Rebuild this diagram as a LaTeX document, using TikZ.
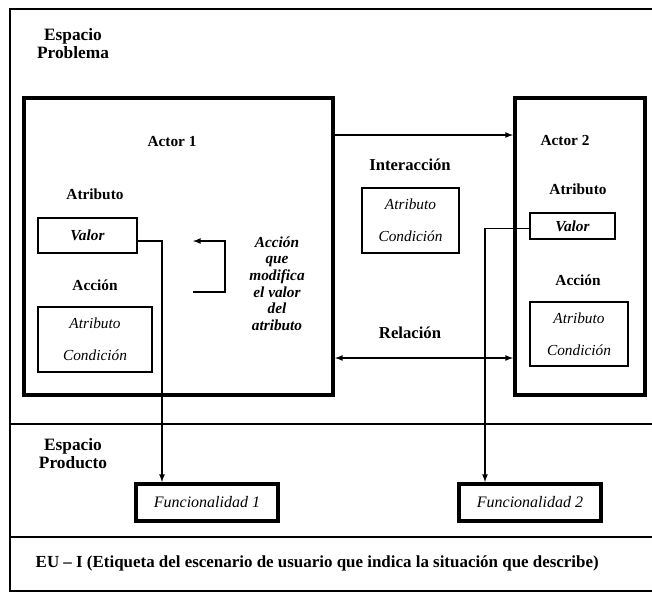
\documentclass[tikz,border=0pt]{standalone}
\usepackage{fontspec}
\setmainfont{Liberation Serif}
\usetikzlibrary{positioning}

\begin{document}
\begin{tikzpicture}[
    x=0.75pt, y=-0.75pt,
    bigbox/.style={draw,line width=3pt,inner sep=0pt},
    smallbox/.style={draw,line width=0.8pt,inner sep=0pt,align=center,
      font=\fontsize{11.5}{24}\selectfont\itshape},
    funcbox/.style={draw,line width=3pt,inner sep=0pt,
      minimum width=106.5pt,minimum height=27.75pt,
      font=\fontsize{12}{14}\selectfont\itshape},
    lbl/.style={font=\fontsize{11.5}{12.75}\selectfont\bfseries,align=center},
    space/.style={font=\fontsize{13}{13.5}\selectfont\bfseries,align=center},
    biglbl/.style={font=\fontsize{12.5}{14}\selectfont\bfseries},
    link/.style={line width=1pt}
    ]

    \useasboundingbox (0,0) rectangle (652,594);

    % frame of the spaces
    \draw[line width=1.5pt] (652,9) -- (10,9) -- (10,591) -- (652,591);
    \draw[line width=2pt] (10,424) -- (652,424);
    \draw[line width=2pt] (10,537) -- (652,537);

    \node[space] (eprob) at (73,44) {Espacio\\Problema};
    \node[space] (eprod) at (73,454) {Espacio\\Producto};

    % actors
    \node[bigbox, minimum width=231.75pt, minimum height=222.75pt] (actor1) at (178.5,246.5) {};
    \node[bigbox, minimum width=97.5pt, minimum height=222.75pt] (actor2) at (580,246.5) {};

    \node[lbl] (a1) at (172,142) {Actor 1};
    \node[lbl] (at1) at (95,194) {Atributo};
    \node[smallbox, minimum width=74.25pt, minimum height=26.25pt] (valor1) at (87.5,235.5) {\bfseries Valor};
    \node[lbl] (ac1) at (95,285) {Acción};
    \node[smallbox, minimum width=85.5pt, minimum height=48.75pt] (accion1) at (95,339.5) {Atributo\\Condición};

    \node[lbl] (a2) at (565,140) {Actor 2};
    \node[lbl] (at2) at (578,189) {Atributo};
    \node[smallbox, minimum width=63.75pt, minimum height=19.5pt] (valor2) at (572.5,226) {\bfseries Valor};
    \node[lbl] (ac2) at (578,280) {Acción};
    \node[smallbox, minimum width=73.5pt, minimum height=48pt] (accion2) at (579,334) {Atributo\\Condición};

    % between the actors
    \node[biglbl] (inter) at (410,165) {Interacción};
    \node[smallbox, minimum width=72.75pt, minimum height=48.75pt] (interbox) at (410.5,220.5) {Atributo\\Condición};
    \node[biglbl] (rel) at (410,333) {Relación};

    \node[font=\fontsize{11.5}{12.5}\selectfont\bfseries\itshape, align=center] (modif) at (277,283.5)
      {Acción\\que\\modifica\\el valor\\del\\atributo};
    \coordinate (loopa) at (193,292);
    \coordinate (loopb) at (193,241);

    % product space
    \node[funcbox] (func1) at (207,502.5) {Funcionalidad 1};
    \node[funcbox] (func2) at (530,502.5) {Funcionalidad 2};

    \node[font=\fontsize{12.7}{14}\selectfont\bfseries, anchor=west] (eu) at (31,563)
      {EU -- I (Etiqueta del escenario de usuario que indica la situación que describe)};

    \draw[link,-latex] ([yshift=-29.25pt]actor1.north east) -- ([yshift=-29.25pt]actor2.north west);
    \draw[link,latex-latex] ([yshift=29.25pt]actor1.south east) -- ([yshift=29.25pt]actor2.south west);
    \draw[link,-latex] (loopa) -- ++(32,0) |- (loopb);
    \draw[link,-latex] ([yshift=-4pt]valor1.east) -| ([xshift=21pt]func1.north west);
    \draw[link,-latex] ([yshift=-2pt]valor2.west) -| ([xshift=21pt]func2.north west);

  \end{tikzpicture}
\end{document}
